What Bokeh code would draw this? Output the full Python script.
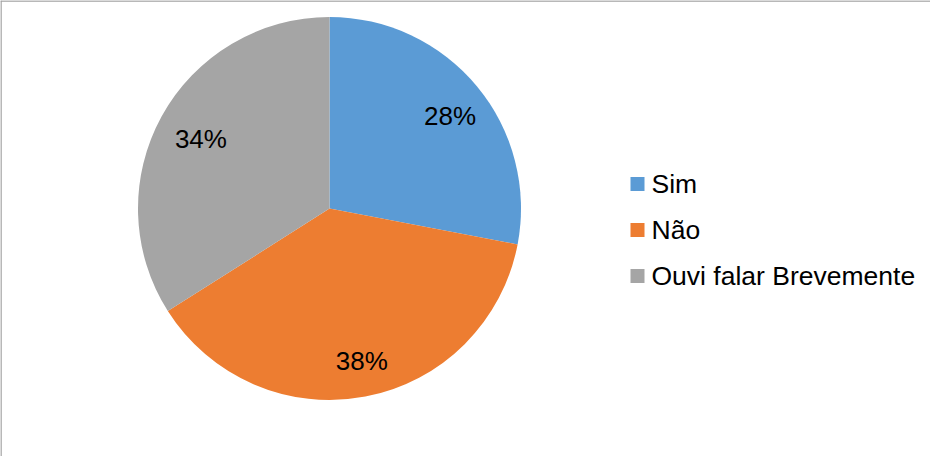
import math
from bokeh.plotting import figure
from bokeh.models import Range1d, ColumnDataSource, Span
from bokeh.core.properties import value
from bokeh.embed import file_html
from bokeh.resources import INLINE

categories = ["Sim", "Não", "Ouvi falar Brevemente"]
shares = [28, 38, 34]
colors = ["#5B9BD5", "#ED7D31", "#A5A5A5"]

W, H = 930, 456
FONT = "Liberation Sans"

p = figure(width=W, height=H, output_backend="svg", toolbar_location=None,
           x_range=Range1d(0, W), y_range=Range1d(0, H), min_border=0)
p.axis.visible = False
p.grid.visible = False
p.outline_line_color = None
p.background_fill_color = "white"
p.border_fill_color = "white"

# pie geometry
cx, cy, R = 329, 248, 191.5
total = sum(shares)
starts, ends, lx, ly, labels = [], [], [], [], []
acc = 0.0
for v in shares:
    a0 = math.pi / 2 - 2 * math.pi * acc / total
    a1 = math.pi / 2 - 2 * math.pi * (acc + v) / total
    starts.append(a0)
    ends.append(a1)
    mid = (a0 + a1) / 2
    lx.append(cx + 4 + 0.79 * R * math.cos(mid))
    ly.append(cy - 3.5 + 0.79 * R * math.sin(mid))
    labels.append(f"{round(100 * v / total)}%")
    acc += v

src = ColumnDataSource(dict(start=starts, end=ends, color=colors, lx=lx, ly=ly, lab=labels))
p.wedge(x=cx, y=cy, radius=R, radius_units="screen", start_angle="start", end_angle="end",
        direction="clock", fill_color="color", line_color=None, source=src)
p.text(x="lx", y="ly", text="lab", source=src, text_font=value(FONT), text_font_size="26px",
       text_align="center", text_baseline="middle", text_color="#000000")

# legend
leg_x = 637
leg_y0 = 456 - 183.5
step = 46
ly_leg = [leg_y0 - i * step for i in range(len(categories))]
lsrc = ColumnDataSource(dict(x=[leg_x] * len(categories), y=ly_leg, color=colors, name=categories,
                             tx=[leg_x + 14] * len(categories)))
p.scatter(x="x", y="y", marker="square", size=14, fill_color="color", line_color=None, source=lsrc)
p.text(x="tx", y="y", text="name", source=lsrc, text_font=value(FONT), text_font_size="26.5px",
       text_align="left", text_baseline="middle", text_color="#000000")

# chart-area border (left and top edges visible)
p.add_layout(Span(location=0.5, dimension="height", line_color="#a0a0a0", line_width=1.5))
p.add_layout(Span(location=H - 0.5, dimension="width", line_color="#a0a0a0", line_width=1.5))

open("out.html", "w").write(file_html(p, INLINE))
